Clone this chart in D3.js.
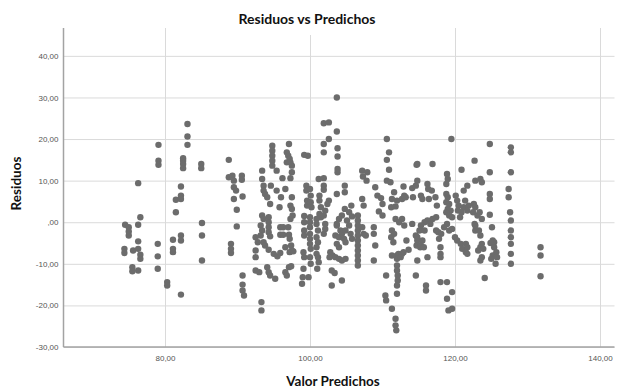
<!DOCTYPE html>
<html>
<head>
<meta charset="utf-8">
<script src="https://cdn.jsdelivr.net/npm/d3@7"></script>
<style>
  body { margin: 0; background: #fff; }
  svg { display: block; }
</style>
</head>
<body>
<svg id="chart" width="618" height="391"></svg>
<script>
// ticks
const xTicks = [80, 100, 120, 140]
const yTicks = [-30, -20, -10, 0, 10, 20, 30, 40]

// [valor predicho, residuo], left to right
const tramo75_85 = [
  [74.5,-0.6],[75.0,-1.2],[75.0,-2.2],[75.0,-3.2],[74.4,-6.4],[74.4,-7.4],[75.6,-6.8],[75.5,-10.8],
  [75.5,-11.8],[76.3,-11.6],[76.3,9.4],[76.3,-0.6],[76.3,-4.6],[76.3,-6.4],[76.6,1.2],[76.6,-7.8],
  [76.6,-8.8],[79.0,-5.2],[79.0,-8.2],[79.0,-11.2],[79.1,18.6],[79.1,14.8],[79.1,13.8],
  [80.3,-14.4],[80.3,-15.2],[81.1,-4.2],[81.1,-6.4],[81.1,-7.2],[81.5,5.4],[81.5,2.4],
  [82.2,8.6],[82.2,6.4],[82.2,5.6],[82.2,-3.2],[82.2,-4.4],[82.2,-17.4],
  [82.5,15.4],[82.5,14.8],[82.5,14],[82.5,13],[83.1,23.6],[83.1,20.6],[83.1,18.6],
  [85.0,14],[85.0,13],[85.1,-0.2],[85.1,-3.2],[85.1,-9.2]
]

const tramo88_92 = [
  [88.8,15],[88.8,10.8],[89.3,11.2],[89.5,10.0],[90.6,11.2],[90.6,10.2],[89.5,8.4],[89.8,7.6],
  [89.5,5.6],[90.7,6.2],[89.9,3.0],[89.9,-1.0],[89.1,-5.2],[89.1,-6.4],[89.1,-7.4],
  [90.7,-12.8],[90.7,-15],[90.7,-16.4],[90.9,-17.6]
]

const tramo92_100 = [
  [94.8,18.4],[94.8,17.2],[94.8,16],[94.8,14.8],[94.8,13.6],
  [97.1,18.8],[96.8,16.8],[97.0,16],[97.2,15.2],[96.8,14.4],[97.3,14.4],
  [93.4,12.4],[95.4,12.4],[97.5,13.6],[97.5,12],[96.2,10.6],[97.3,10.6],
  [93.4,10.4],[93.6,8.8],[93.6,7.6],[93.8,6.8],[94.1,6],[94.6,8.8],[95.4,7.6],[96,6],
  [96.6,8],[97.5,6],[97.3,4],[97.5,3.2],[94.5,4.4],[95.8,3.6],
  [93.4,1.6],[93.6,0.8],[94.3,1.2],[94.3,0],[97.3,0.8],[97.6,1.6],
  [93.2,-0.8],[93.4,-2],[93.2,-3.2],[94.3,-1.2],[94.3,-2.4],[94.5,-3.4],
  [95.9,-1.2],[96.3,-1.2],[95.9,-3],[96.3,-3],
  [97,-1.2],[97.1,-3],[97.2,-4],[97.4,-5.6],[97.5,-6.8],
  [92.5,-3.6],[92.8,-4.8],[93.6,-4.8],[93.8,-5.6],[92.5,-6.8],[92.5,-8.4],
  [94.3,-6.6],[95,-7.6],[95.5,-8.2],[95.9,-7.4],[96.6,-6],[97.2,-7.2],[97.7,-7],
  [92.5,-11.6],[93,-12],[94.1,-10.8],[94.3,-12],[94.5,-12.8],[95.2,-13.6],
  [96.6,-12],[96.8,-12.8],[97.1,-10.8],[97.4,-10.6],[93.3,-19.2],[93.3,-21.2],
  [99.7,16],[99.2,16.2],[99.5,8.8],[99.5,7.6],[99.6,5.2],[99.6,4],[99.2,1.5],[99.2,0],
  [99.2,-2],[99.2,-3.2],[99.1,-7.2],[99.2,-8.4],[99.1,-11.2],[99.0,-13.2],[98.9,-14.8]
]

const tramo100_107 = [
  [103.7,30],[101.9,23.8],[102.6,24],[103.7,21.8],[102.6,20],[101.9,18.8],[101.9,16.8],
  [103.8,17.8],[103.8,15.8],[103.8,12.8],[103.8,12],
  [101.2,10.4],[101.9,10.6],[101.9,8.8],[101.9,7.8],
  [100,8],[100.1,6.4],[100.1,4.8],[100.2,3.6],
  [101.3,6.4],[101.3,5.2],[101.5,3.6],[101.3,2],[101.5,1.2],
  [102.6,5.2],[102.4,4.4],[102.1,2.8],[101.9,1.6],
  [103.7,6.8],[104.8,8.8],[104.8,7.2],[104.8,3.2],[104.4,1.6],[104,0.8],[103.7,-0.4],
  [105.7,4],[105.4,2.4],[105.8,1.4],
  [106.6,1.6],[106.6,0.4],[106.6,-0.8],[106.6,-2],[106.6,-3.2],[106.6,-4.4],[106.6,-5.6],
  [106.6,-6.8],[106.6,-8],[106.6,-9.2],[106.6,-10.4],
  [100,1.2],[100,0],[100,-1.2],[100,-2.8],[100,-4],[100,-5.2],[100.1,-6.4],[100,-8.4],[100.1,-10],[99.8,-13.2],
  [100.9,0.8],[100.9,-0.4],[101.1,-2],[100.9,-3.6],[101.1,-4.8],[100.9,-6],[100.9,-7.6],
  [101.1,-8.4],[101.2,-9.6],[101,-11.2],
  [102.1,-0.4],[102.1,-1.6],[101.9,-2.8],
  [103.7,-0.8],[104.2,-2],[103.5,-3.2],[104,-3.6],[104.4,-2.8],[104.7,-4],[104.9,-4.8],
  [102.8,-7.2],[103.1,-8],[102.7,-8.4],[103.5,-8.4],[104,-8.8],[104.4,-9.2],[104.9,-8.8],
  [104,-6],[103.7,-5.2],
  [105.1,0.4],[105.4,-0.8],[104.9,-2],[105.6,-2.8],[105.8,-4],
  [103,-11.6],[103.4,-12.2],[104.4,-14],[103,-15.2],
  [107.2,12.4],[107.3,11],[107.2,5.6],[107.4,4],[107.2,-1.2],[107.4,-2.8]
]

const tramo107_115 = [
  [110.6,20],[110.9,16.8],[110.6,15],[110.9,12.6],[110.6,10],[111.1,9.6],
  [107.9,12],[107.8,10],[109,8.4],[109.3,6.4],[109.8,5.8],[110,4.4],[109.5,2.6],[110,1.6],
  [111.3,5.6],[111.6,7.2],[111.2,3.6],[111.8,3.8],[112,5.2],[112.7,5.6],[113,6.4],[113.2,6],
  [112.9,8.6],[114.1,8.2],[114.2,6],[114.6,8.8],[114.7,13.8],
  [111.8,0.8],[112.3,0],[112.7,0.8],[113,-0.8],[114.1,-0.4],
  [107.7,-3.2],[108.8,-1.2],[108.8,-2.8],[109,-5.6],
  [111.3,-2],[111.6,-2.8],[111.2,-3.6],[111.5,-4.8],[113.3,-4.4],[113.6,-6.6],
  [114.6,-3.2],[114.8,-4.4],[114.7,-5.6],[115.2,-6],
  [111.3,-8],[112,-8],[112.2,-7.6],[112.7,-7.6],[112.9,-7.2],[112,-8.8],[112.5,-8.4],
  [108.8,-9.2],[112,-10.4],[112,-11.6],[112.1,-12.8],[112.1,-14],[112,-15.2],
  [110.5,-12.8],[114.6,-12.8],[110.4,-17.6],[110.5,-18.8],[112,-17.2],
  [111.3,-20.8],[111.8,-23.2],[111.8,-24.8],[111.9,-26]
]

const tramo115_123 = [
  [119.5,20],[114.8,14],[116.9,14],[120.9,12.6],[122.7,14.8],
  [118.9,11.6],[119,10.4],[118.8,9.2],[114.8,10],[116.2,9.2],[116.3,8],[116.8,7.6],
  [115.3,6.4],[115.5,5.6],[116.4,5.6],[117.3,6],[117.5,4],
  [118.8,6.8],[119,6],[118.8,4.8],[119.2,4.4],[119,3.2],[119.4,2.8],[118.8,2.4],[119.2,1.6],[119.6,1.2],
  [120.1,6.4],[120.3,5.2],[120.5,4],[120.4,2.8],[121.2,7.6],[121.7,8.8],[121.4,5.2],[121.2,3.6],
  [120.9,2.4],[120.7,1.2],[121.9,4],[121.7,2.8],
  [117.4,1.2],[116.9,0.8],[116.2,0.4],[115.8,0],[115.3,-0.8],[115.1,-2],[115.8,-2],
  [116.6,-0.4],[117.4,-2],[117.7,-2.4],[118.1,-2.8],[117.8,-4],
  [118.9,-0.4],[118.5,-1.2],[119.2,-2],[119.6,-1.6],
  [114.8,-3.6],[115.5,-4.4],[115.3,-5.6],[115.7,-6],
  [120,-3.6],[120.3,-4.4],[120.8,-5.2],[121,-6.4],[121.5,-5.2],[121.7,-6],[121.5,-7.2],[121.7,-7.6],
  [118,-6],[118,-7.6],[118,-8.4],[116.2,-8.4],[114.8,-9.2],
  [122.7,-0.4],[122.8,-2],
  [116,-15.2],[116,-16.4],[118,-14.4],[118.9,-14.4],
  [119.6,-16.8],[118.9,-18.4],[119.1,-21.2],[119.6,-20.8]
]

const tramo123_132 = [
  [124.8,18.8],[127.7,18],[127.7,16.8],[124.8,12],[127.7,12],
  [122.8,10],[123.5,10.4],[123.7,9.6],[124.8,6.8],[124.8,5.6],[127.4,8],[127.4,6],
  [122.6,4.4],[122.8,3.6],[122.5,2.4],[123.1,1.6],[123.4,2.4],[123.7,0.8],[124.8,1.8],
  [127.6,2.4],[127.7,0.4],[127.7,-2],[127.7,-3.6],[127.7,-5.2],[127.7,-7.6],[127.7,-10],
  [125.1,-1.2],[122.8,-0.8],[123.3,-2],[123.5,-3.2],
  [123.7,-5.2],[123.5,-6],[123.9,-6.4],[123.2,-6.8],[123.7,-8.4],[123.5,-9.2],
  [125.2,-4.4],[125.4,-4.8],[124.9,-5],[125.4,-6],
  [125.7,-7.2],[125.2,-8],[125.8,-8.4],[125.6,-10],[125,-8.8],
  [124.1,-13.4],[131.8,-6],[131.8,-8],[131.8,-13]
]

const puntos = [].concat(tramo75_85, tramo88_92, tramo92_100, tramo100_107, tramo107_115, tramo115_123, tramo123_132)

const plot = { left: 63.5, right: 614.5, top: 28, bottom: 347 }

const x = d3.scaleLinear().domain([66, 142]).range([plot.left, plot.right])
const y = d3.scaleLinear().domain([-30, 46.7]).range([plot.bottom, plot.top])

// SPSS style numbers: 80,00  ,00  -10,00
const loc = d3.formatLocale({ decimal: ',', thousands: '.', grouping: [3], currency: ['', ''], minus: '-' })
const f2 = loc.format('.2f')
const fmt = v => {
  const s = f2(v)
  return s === '0,00' ? ',00' : s
}

const svg = d3.select('#chart')
const width = plot.right - plot.left
const height = plot.bottom - plot.top

// grid + tick labels
const gy = svg.append('g')
  .attr('transform', `translate(${plot.left},0)`)
  .call(d3.axisLeft(y).tickValues(yTicks).tickFormat(fmt)
    .tickSizeInner(-width).tickSizeOuter(0).tickPadding(5))

const gx = svg.append('g')
  .attr('transform', `translate(0,${plot.bottom})`)
  .call(d3.axisBottom(x).tickValues(xTicks).tickFormat(fmt)
    .tickSizeInner(-height).tickSizeOuter(0).tickPadding(8))

for (const g of [gx, gy]) {
  g.select('.domain').remove()
  g.selectAll('.tick line').attr('stroke', '#dadada').attr('stroke-width', 1)
  g.selectAll('.tick text')
    .attr('fill', '#555')
    .style('font-family', '"Liberation Sans", Arial, sans-serif')
    .style('font-size', '8px')
}

// frame (left + bottom)
svg.append('line')
  .attr('x1', plot.left).attr('x2', plot.left)
  .attr('y1', plot.top).attr('y2', plot.bottom)
  .attr('stroke', '#a3a3a3').attr('stroke-width', 1.5)
svg.append('line')
  .attr('x1', plot.left).attr('x2', plot.right)
  .attr('y1', plot.bottom).attr('y2', plot.bottom)
  .attr('stroke', '#a3a3a3').attr('stroke-width', 1.5)

// points
svg.append('g')
  .selectAll('circle')
  .data(puntos)
  .join('circle')
  .attr('cx', d => x(d[0]))
  .attr('cy', d => y(d[1]))
  .attr('r', 3.2)
  .attr('fill', '#6c6c6c')

// title (white box hides the grid behind it)
svg.append('rect')
  .attr('x', 230).attr('y', 0).attr('width', 154).attr('height', 35)
  .attr('fill', '#fff')

const titleFont = 'Lato, "Open Sans", sans-serif'
svg.append('text')
  .attr('x', 307).attr('y', 24)
  .attr('text-anchor', 'middle')
  .style('font-family', titleFont).style('font-weight', 700).style('font-size', '14px')
  .attr('fill', '#111')
  .text('Residuos vs Predichos')

svg.append('text')
  .attr('x', 333).attr('y', 386)
  .attr('text-anchor', 'middle')
  .style('font-family', titleFont).style('font-weight', 700).style('font-size', '13.5px')
  .attr('fill', '#111')
  .text('Valor Predichos')

svg.append('text')
  .attr('transform', `translate(21,${(plot.top + plot.bottom) / 2 - 4}) rotate(-90)`)
  .attr('text-anchor', 'middle')
  .style('font-family', titleFont).style('font-weight', 700).style('font-size', '13.5px')
  .attr('fill', '#111')
  .text('Residuos')
</script>
</body>
</html>
